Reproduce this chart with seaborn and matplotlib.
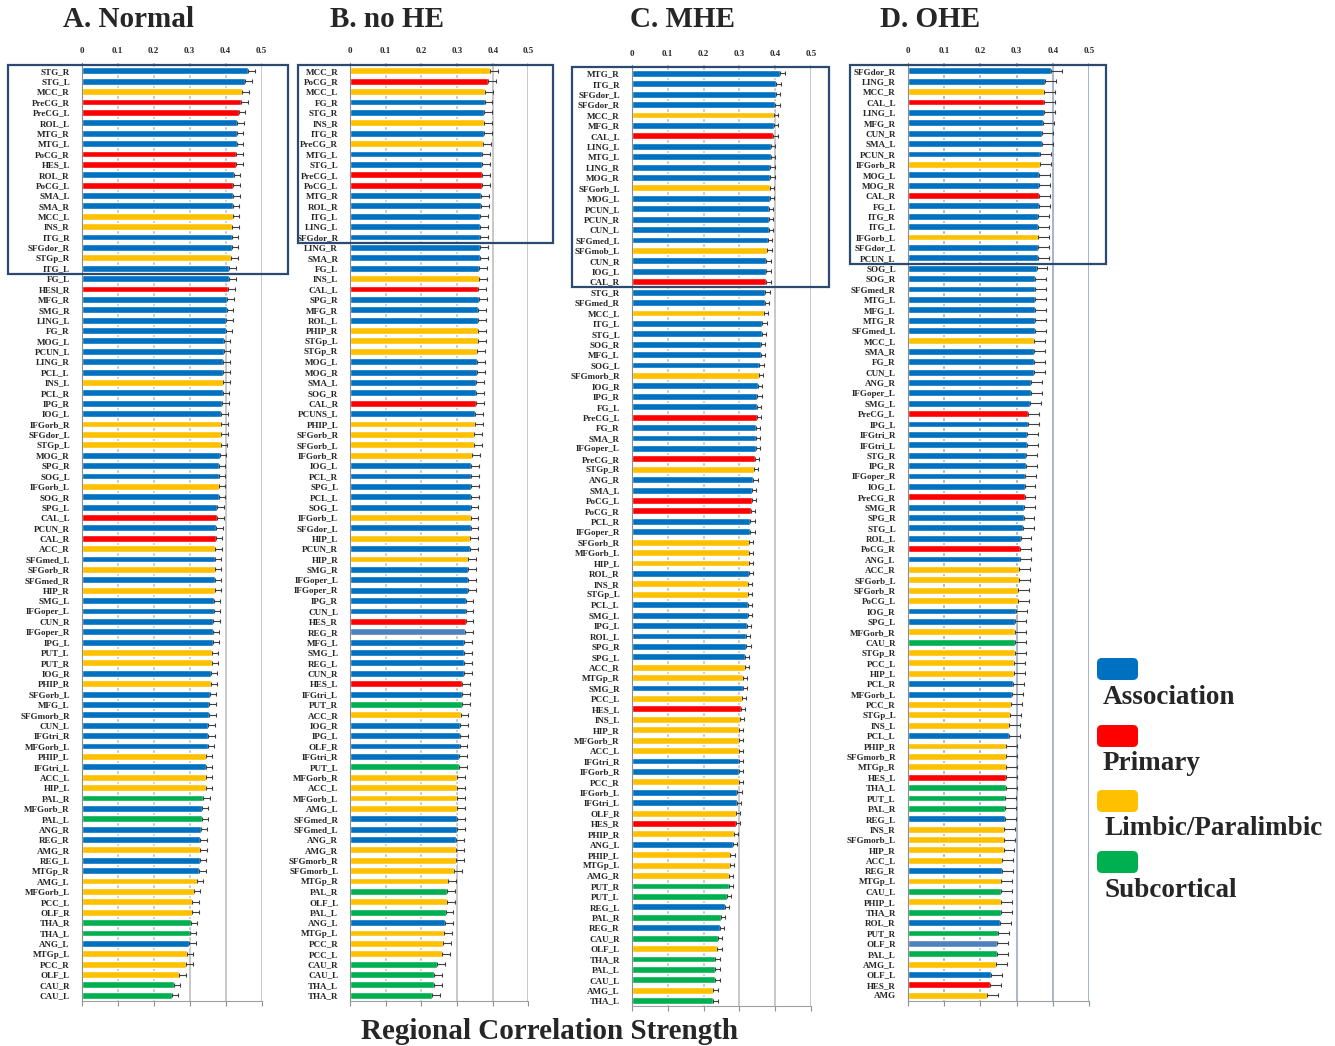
"""
Regional correlation strength per AAL region for four groups
(Normal, no HE, MHE, OHE), horizontal bars coloured by network type.
"""
import numpy as np
import pandas as pd
import matplotlib
matplotlib.use("Agg")
import matplotlib.pyplot as plt
import matplotlib.transforms as mtransforms
from matplotlib.patches import Rectangle, FancyBboxPatch
import seaborn as sns

# ---- data ----
# group codes: A=Association, P=Primary, L=Limbic/Paralimbic, S=Subcortical, B=other blue
names_a = ["STG_R", "STG_L", "MCC_R", "PreCG_R", "PreCG_L", "ROL_L", "MTG_R", "MTG_L", "PoCG_R", "HES_L",
           "ROL_R", "PoCG_L", "SMA_L", "SMA_R", "MCC_L", "INS_R", "ITG_R", "SFGdor_R", "STGp_R", "ITG_L",
           "FG_L", "HESl_R", "MFG_R", "SMG_R", "LING_L", "FG_R", "MOG_L", "PCUN_L", "LING_R", "PCL_L",
           "INS_L", "PCL_R", "IPG_R", "IOG_L", "IFGorb_R", "SFGdor_L", "STGp_L", "MOG_R", "SPG_R", "SOG_L",
           "IFGorb_L", "SOG_R", "SPG_L", "CAL_L", "PCUN_R", "CAL_R", "ACC_R", "SFGmed_L", "SFGorb_R", "SFGmed_R",
           "HIP_R", "SMG_L", "IFGoper_L", "CUN_R", "IFGoper_R", "IPG_L", "PUT_L", "PUT_R", "IOG_R", "PHIP_R",
           "SFGorb_L", "MFG_L", "SFGmorb_R", "CUN_L", "IFGtri_R", "MFGorb_L", "PHIP_L", "IFGtri_L", "ACC_L", "HIP_L",
           "PAL_R", "MFGorb_R", "PAL_L", "ANG_R", "REG_R", "AMG_R", "REG_L", "MTGp_R", "AMG_L", "MFGorb_L",
           "PCC_L", "OLF_R", "THA_R", "THA_L", "ANG_L", "MTGp_L", "PCC_R", "OLF_L", "CAU_R", "CAU_L"]
values_a = [0.463, 0.454, 0.446, 0.443, 0.436, 0.432, 0.431, 0.431, 0.430, 0.429,
            0.423, 0.421, 0.421, 0.420, 0.420, 0.418, 0.417, 0.417, 0.415, 0.410,
            0.410, 0.407, 0.405, 0.403, 0.401, 0.400, 0.395, 0.395, 0.393, 0.393,
            0.393, 0.392, 0.390, 0.388, 0.388, 0.388, 0.386, 0.384, 0.381, 0.381,
            0.381, 0.381, 0.376, 0.376, 0.374, 0.373, 0.371, 0.370, 0.369, 0.369,
            0.369, 0.367, 0.367, 0.366, 0.364, 0.364, 0.362, 0.361, 0.359, 0.359,
            0.356, 0.354, 0.354, 0.352, 0.352, 0.350, 0.344, 0.344, 0.344, 0.344,
            0.338, 0.333, 0.333, 0.331, 0.330, 0.330, 0.328, 0.326, 0.319, 0.311,
            0.307, 0.307, 0.303, 0.300, 0.299, 0.292, 0.290, 0.271, 0.256, 0.250]
groups_a = list("AALPPAAAPP" "APAALLAALA" "APAAAAAAAA" "LAAALLLAAA" "LAAPAPLALA"
                "LAAAAALLAL" "AAAAAALALL" "SASAALAALL" "LLSSALLLSS")

names_b = ["MCC_R", "PoCG_R", "MCC_L", "FG_R", "STG_R", "INS_R", "ITG_R", "PreCG_R", "MTG_L", "STG_L",
           "PreCG_L", "PoCG_L", "MTG_R", "ROL_R", "ITG_L", "LING_L", "SFGdor_R", "LING_R", "SMA_R", "FG_L",
           "INS_L", "CAL_L", "SPG_R", "MFG_R", "ROL_L", "PHIP_R", "STGp_L", "STGp_R", "MOG_L", "MOG_R",
           "SMA_L", "SOG_R", "CAL_R", "PCUNS_L", "PHIP_L", "SFGorb_R", "SFGorb_L", "IFGorb_R", "IOG_L", "PCL_R",
           "SPG_L", "PCL_L", "SOG_L", "IFGorb_L", "SFGdor_L", "HIP_L", "PCUN_R", "HIP_R", "SMG_R", "IFGoper_L",
           "IFGoper_R", "IPG_R", "CUN_L", "HES_R", "REG_R", "MFG_L", "SMG_L", "REG_L", "CUN_R", "HES_L",
           "IFGtri_L", "PUT_R", "ACC_R", "IOG_R", "IPG_L", "OLF_R", "IFGtri_R", "PUT_L", "MFGorb_R", "ACC_L",
           "MFGorb_L", "AMG_L", "SFGmed_R", "SFGmed_L", "ANG_R", "AMG_R", "SFGmorb_R", "SFGmorb_L", "MTGp_R", "PAL_R",
           "OLF_L", "PAL_L", "ANG_L", "MTGp_L", "PCC_R", "PCC_L", "CAU_R", "CAU_L", "THA_L", "THA_R"]
values_b = [0.393, 0.388, 0.379, 0.377, 0.375, 0.375, 0.375, 0.373, 0.369, 0.369,
            0.369, 0.369, 0.367, 0.367, 0.365, 0.365, 0.365, 0.364, 0.364, 0.362,
            0.362, 0.360, 0.361, 0.359, 0.358, 0.358, 0.358, 0.357, 0.356, 0.355,
            0.353, 0.353, 0.353, 0.351, 0.350, 0.348, 0.348, 0.342, 0.340, 0.340,
            0.340, 0.340, 0.338, 0.338, 0.338, 0.336, 0.336, 0.332, 0.332, 0.330,
            0.330, 0.324, 0.324, 0.324, 0.322, 0.320, 0.320, 0.320, 0.320, 0.315,
            0.313, 0.313, 0.310, 0.308, 0.308, 0.307, 0.305, 0.305, 0.299, 0.299,
            0.299, 0.299, 0.299, 0.299, 0.297, 0.297, 0.297, 0.292, 0.276, 0.273,
            0.271, 0.268, 0.266, 0.264, 0.262, 0.259, 0.243, 0.235, 0.235, 0.231]
groups_b = list("LPLAALALAA" "PPAAAAAAAA" "LPAAALLLAA" "AAPALLLLAA" "AAALALALAA"
                "AAAPBAAAAP" "ASLAAAASLL" "LLAAALLLLS" "LSALLLSSSS")

names_c = ["MTG_R", "ITG_R", "SFGdor_L", "SFGdor_R", "MCC_R", "MFG_R", "CAL_L", "LING_L", "MTG_L", "LING_R",
           "MOG_R", "SFGorb_L", "MOG_L", "PCUN_L", "PCUN_R", "CUN_L", "SFGmed_L", "SFGmob_L", "CUN_R", "IOG_L",
           "CAL_R", "STG_R", "SFGmed_R", "MCC_L", "ITG_L", "STG_L", "SOG_R", "MFG_L", "SOG_L", "SFGmorb_R",
           "IOG_R", "IPG_R", "FG_L", "PreCG_L", "FG_R", "SMA_R", "IFGoper_L", "PreCG_R", "STGp_R", "ANG_R",
           "SMA_L", "PoCG_L", "PoCG_R", "PCL_R", "IFGoper_R", "SFGorb_R", "MFGorb_L", "HIP_L", "ROL_R", "INS_R",
           "STGp_L", "PCL_L", "SMG_L", "IPG_L", "ROL_L", "SPG_R", "SPG_L", "ACC_R", "MTGp_R", "SMG_R",
           "PCC_L", "HES_L", "INS_L", "HIP_R", "MFGorb_R", "ACC_L", "IFGtri_R", "IFGorb_R", "PCC_R", "IFGorb_L",
           "IFGtri_L", "OLF_R", "HES_R", "PHIP_R", "ANG_L", "PHIP_L", "MTGp_L", "AMG_R", "PUT_R", "PUT_L",
           "REG_L", "PAL_R", "REG_R", "CAU_R", "OLF_L", "THA_R", "PAL_L", "CAU_L", "AMG_L", "THA_L"]
values_c = [0.414, 0.403, 0.401, 0.400, 0.396, 0.395, 0.394, 0.388, 0.388, 0.386,
            0.386, 0.384, 0.384, 0.382, 0.381, 0.381, 0.380, 0.378, 0.375, 0.375,
            0.375, 0.372, 0.371, 0.368, 0.364, 0.362, 0.360, 0.359, 0.355, 0.354,
            0.352, 0.350, 0.348, 0.348, 0.345, 0.345, 0.345, 0.343, 0.340, 0.339,
            0.335, 0.335, 0.331, 0.330, 0.330, 0.327, 0.327, 0.326, 0.326, 0.323,
            0.323, 0.323, 0.323, 0.321, 0.318, 0.319, 0.315, 0.315, 0.310, 0.310,
            0.306, 0.304, 0.301, 0.299, 0.299, 0.298, 0.298, 0.298, 0.298, 0.294,
            0.292, 0.289, 0.289, 0.284, 0.282, 0.275, 0.273, 0.271, 0.271, 0.264,
            0.259, 0.248, 0.245, 0.239, 0.238, 0.233, 0.233, 0.233, 0.227, 0.227]
groups_c = list("AAAALAPAAA" "ALAAAAALAA" "PAALAAAAAL" "AAAPAAAPLA" "APPAALLLAL"
                "LAAAAAALLA" "LPLLLLAALA" "ALPLALLLSS" "ASASLSSSLS")

names_d = ["SFGdor_R", "LING_R", "MCC_R", "CAL_L", "LING_L", "MFG_R", "CUN_R", "SMA_L", "PCUN_R", "IFGorb_R",
           "MOG_L", "MOG_R", "CAL_R", "FG_L", "ITG_R", "ITG_L", "IFGorb_L", "SFGdor_L", "PCUN_L", "SOG_L",
           "SOG_R", "SFGmed_R", "MTG_L", "MFG_L", "MTG_R", "SFGmed_L", "MCC_L", "SMA_R", "FG_R", "CUN_L",
           "ANG_R", "IFGoper_L", "SMG_L", "PreCG_L", "IPG_L", "IFGtri_R", "IFGtri_L", "STG_R", "IPG_R", "IFGoper_R",
           "IOG_L", "PreCG_R", "SMG_R", "SPG_R", "STG_L", "ROL_L", "PoCG_R", "ANG_L", "ACC_R", "SFGorb_L",
           "SFGorb_R", "PoCG_L", "IOG_R", "SPG_L", "MFGorb_R", "CAU_R", "STGp_R", "PCC_L", "HIP_L", "PCL_R",
           "MFGorb_L", "PCC_R", "STGp_L", "INS_L", "PCL_L", "PHIP_R", "SFGmorb_R", "MTGp_R", "HES_L", "THA_L",
           "PUT_L", "PAL_R", "REG_L", "INS_R", "SFGmorb_L", "HIP_R", "ACC_L", "REG_R", "MTGp_L", "CAU_L",
           "PHIP_L", "THA_R", "ROL_R", "PUT_R", "OLF_R", "PAL_L", "AMG_L", "OLF_L", "HES_R", "AMG"]
values_d = [0.394, 0.378, 0.375, 0.375, 0.375, 0.372, 0.371, 0.369, 0.365, 0.365,
            0.363, 0.361, 0.361, 0.361, 0.360, 0.360, 0.360, 0.358, 0.358, 0.355,
            0.351, 0.351, 0.351, 0.351, 0.351, 0.350, 0.348, 0.348, 0.348, 0.347,
            0.341, 0.339, 0.337, 0.331, 0.331, 0.328, 0.328, 0.326, 0.326, 0.324,
            0.322, 0.322, 0.320, 0.319, 0.317, 0.311, 0.309, 0.309, 0.306, 0.306,
            0.305, 0.303, 0.299, 0.296, 0.296, 0.295, 0.295, 0.294, 0.294, 0.289,
            0.287, 0.285, 0.282, 0.279, 0.279, 0.272, 0.272, 0.272, 0.270, 0.270,
            0.268, 0.268, 0.267, 0.265, 0.265, 0.264, 0.260, 0.260, 0.257, 0.256,
            0.256, 0.256, 0.254, 0.249, 0.245, 0.245, 0.243, 0.229, 0.226, 0.219]
groups_d = list("AALPAAAAAL" "AAPAAALAAA" "AAAAAALAAA" "AAAPAAAAAA" "APAAAAPALL"
                "LLAALSLLLA" "ALLLALLLPS" "SSALLLLALS" "LSASBSLAPL")

# approximate standard error per panel
err_a, err_b, err_c, err_d = 0.018, 0.022, 0.012, 0.03

titles = ["A. Normal", "B. no HE", "C. MHE", "D. OHE"]
legend_labels = ["Association", "Primary", "Limbic/Paralimbic", "Subcortical"]

palette = {"A": "#0070C0", "P": "#FF0000", "L": "#FFC000", "S": "#00B050", "B": "#4F81BD"}

sns.set_style("white")
plt.rcParams["font.family"] = ["Liberation Serif", "DejaVu Serif"]
plt.rcParams["font.weight"] = "bold"

fig = plt.figure(figsize=(13.35, 10.46), dpi=100)

# axes rectangles [left, bottom, width, height] and highlight box x-extent (axes fraction)
layout = [
    ([0.0612, 0.0430, 0.1348, 0.8967], (-0.409, 1.146), 20, "#c4c4c4"),
    ([0.2622, 0.0430, 0.1336, 0.8967], (-0.292, 1.138), 17, "#c4c4c4"),
    ([0.4732, 0.0379, 0.1345, 0.8995], (-0.332, 1.099), 21, "#c4c4c4"),
    ([0.6799, 0.0430, 0.1360, 0.8967], (-0.318, 1.093), 19, "#9fb0c8"),
]
panels = [(names_a, values_a, groups_a, err_a),
          (names_b, values_b, groups_b, err_b),
          (names_c, values_c, groups_c, err_c),
          (names_d, values_d, groups_d, err_d)]

title_x = [0.0959, 0.2899, 0.5109, 0.6966]

for (names, values, groups, err), (rect, box_x, n_box, grid_col), title, tx in zip(panels, layout, titles, title_x):
    ax = fig.add_axes(rect)
    n = len(names)
    df = pd.DataFrame({"pos": np.arange(n), "value": values, "group": groups})
    sns.barplot(data=df, x="value", y="pos", hue="group", palette=palette, orient="h",
                dodge=False, width=0.66, saturation=1, errorbar=None, legend=False, ax=ax, zorder=2)
    ax.errorbar(df["value"], df["pos"], xerr=[np.zeros(n), np.full(n, err)],
                fmt="none", ecolor="#404040", elinewidth=0.8, capsize=1.6, capthick=0.8, zorder=3)

    ax.set_xlim(0, 0.5)
    ax.set_ylim(n - 0.45, -0.75)
    ax.set_xticks([0, 0.1, 0.2, 0.3, 0.4, 0.5])
    ax.set_xticklabels(["0", "0.1", "0.2", "0.3", "0.4", "0.5"])
    ax.set_yticks(np.arange(n))
    ax.set_yticklabels(names)
    ax.set_xlabel("")
    ax.set_ylabel("")

    ax.tick_params(axis="x", top=False, labeltop=True, bottom=True, labelbottom=False,
                   length=3.5, color="#909090", labelsize=6.5, pad=2)
    ax.tick_params(axis="y", left=False, labelsize=6.5, pad=5)
    for lab in ax.get_xticklabels() + ax.get_yticklabels():
        lab.set_fontweight("bold")

    ax.grid(axis="x", color=grid_col, linewidth=1.3, zorder=0)
    ax.set_axisbelow(True)
    for side in ["top", "right"]:
        ax.spines[side].set_visible(False)
    ax.spines["left"].set_color("#8c8c8c")
    ax.spines["bottom"].set_color("#a0a0a0")

    # highlight box around the top-ranked regions
    trans = mtransforms.blended_transform_factory(ax.transAxes, ax.transData)
    ax.add_patch(Rectangle((box_x[0], -0.6), box_x[1] - box_x[0], n_box - 0.45 + 0.6,
                           transform=trans, fill=False, edgecolor="#2c4a70",
                           linewidth=1.6, clip_on=False, zorder=5))

    fig.text(tx, 0.981, title, ha="center", va="center", fontsize=21, fontweight="bold")

fig.text(0.412, 0.0134, "Regional Correlation Strength", ha="center", va="center",
         fontsize=21, fontweight="bold")

# legend
legend_cols = [palette["A"], palette["P"], palette["L"], palette["S"]]
patch_bottoms = [3.68, 3.01, 2.36, 1.75]
text_pos = [(0.826, 0.3327), (0.826, 0.2696), (0.8277, 0.2084), (0.8277, 0.1491)]
for col, yb, lab, (tx, ty) in zip(legend_cols, patch_bottoms, legend_labels, text_pos):
    fig.add_artist(FancyBboxPatch((10.99, yb), 0.37, 0.18,
                                  boxstyle="round,pad=0.02,rounding_size=0.05",
                                  transform=fig.dpi_scale_trans, facecolor=col, edgecolor="none"))
    fig.text(tx, ty, lab, ha="left", va="center", fontsize=19.5, fontweight="bold")

fig.savefig("out.png", dpi=100)
